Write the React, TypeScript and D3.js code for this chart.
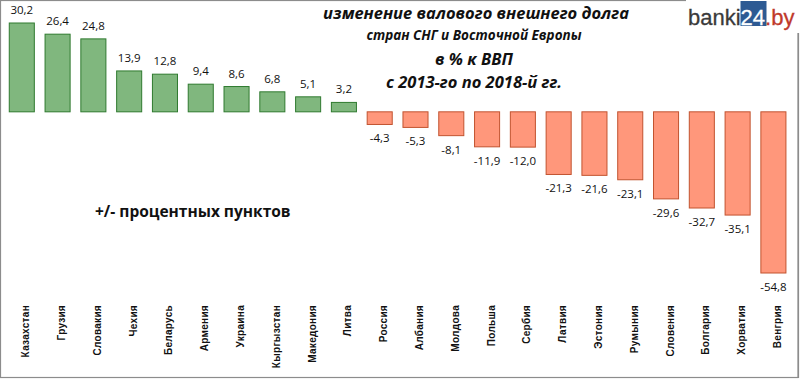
import React from "react";
import * as d3 from "d3";

const countries = ["Казахстан","Грузия","Словакия","Чехия","Беларусь","Армения","Украина","Кыргызстан","Македония","Литва","Россия","Албания","Молдова","Польша","Сербия","Латвия","Эстония","Румыния","Словения","Болгария","Хорватия","Венгрия"];
const values = [30.2,26.4,24.8,13.9,12.8,9.4,8.6,6.8,5.1,3.2,-4.3,-5.3,-8.1,-11.9,-12.0,-21.3,-21.6,-23.1,-29.6,-32.7,-35.1,-54.8];
const titleLines = ["изменение валового внешнего долга","стран СНГ и Восточной Европы","в % к ВВП","с 2013-го по 2018-й гг."];
const noteText = "+/- процентных пунктов";

const W = 800, H = 379;

export default function App() {
  const x = d3.scaleBand<string>().domain(countries).range([3.9, 791.3]).paddingInner(0.3).paddingOuter(0.15);
  const y = d3.scaleLinear().domain([-54.8, 30.2]).range([273, 23]);
  const fmt = (v: number) => d3.format(".1f")(v).replace(".", ",").replace("−", "-");
  const font = "'Open Sans', 'Liberation Sans', sans-serif";
  return (
    <svg width={W} height={H} style={{ position: "absolute", left: 0, top: 0, background: "#fff" }} fontFamily={font}>
      <rect x={0.5} y={0.5} width={797.5} height={377} fill="#fff" stroke="#8c8c8c" strokeWidth={1.2} />
      {countries.map((c, i) => {
        const v = values[i];
        const pos = v >= 0;
        const bx = x(c)!;
        const bw = x.bandwidth();
        const y0 = y(0), y1 = y(v);
        const cx = bx + bw / 2;
        return (
          <g key={c}>
            <rect x={bx} y={Math.min(y0, y1)} width={bw} height={Math.abs(y1 - y0)}
              fill={pos ? "#80b77e" : "#ff977b"} stroke={pos ? "#2f7a2f" : "#c2532f"} strokeWidth={1} />
            <text x={cx} y={pos ? y1 - 9 : y1 + 18} textAnchor="middle" fontSize={11.5} fill="#111">{fmt(v)}</text>
            <text transform={`translate(${cx + 7.5},305) rotate(-90)`} textAnchor="end" fontSize={10} fontWeight="bold" fill="#111"
              fontFamily="'Liberation Sans', Arial, sans-serif" letterSpacing={0.3}>{c}</text>
          </g>
        );
      })}
      <g fontWeight="bold" fontStyle="italic" fill="#111" textAnchor="middle">
        <text x={476} y={19} fontSize={16.5}>{titleLines[0]}</text>
        <text x={474} y={40} fontSize={13.5}>{titleLines[1]}</text>
        <text x={474} y={65} fontSize={16.5}>{titleLines[2]}</text>
        <text x={474} y={88} fontSize={16.5}>{titleLines[3]}</text>
      </g>
      <text x={95} y={217} fontSize={15.5} fontWeight="bold" fill="#111">{noteText}</text>
      <g>
        <rect x={686} y={0} width={114} height={33} fill="#fff" />
        <line x1={798.5} y1={33} x2={798.5} y2={378} stroke="#8c8c8c" strokeWidth={1.2} />
        <rect x={740.5} y={1} width={26} height={25} fill="#2d5a93" />
        <text x={688} y={25} fontSize={22} fontFamily="'Liberation Sans', Arial, sans-serif" fill="#3a3a3a" stroke="#3a3a3a" strokeWidth={0.3}>
          <tspan>banki</tspan><tspan fill="#fff" stroke="#fff">24</tspan><tspan fill="#c0392b" stroke="#c0392b">.by</tspan>
        </text>
      </g>
    </svg>
  );
}
